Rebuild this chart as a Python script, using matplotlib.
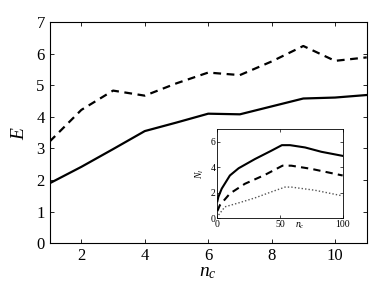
import matplotlib
matplotlib.use("Agg")
import matplotlib.pyplot as plt

plt.rcParams["font.family"] = ["Liberation Serif", "DejaVu Serif"]
plt.rcParams["mathtext.fontset"] = "custom"
plt.rcParams["mathtext.it"] = "Liberation Serif:italic"
plt.rcParams["mathtext.rm"] = "Liberation Serif"

# main panel: E vs n_c
nc = [1, 2, 3, 4, 5, 6, 7, 8, 9, 10, 11]
e_solid = [1.9, 2.42, 2.98, 3.55, 3.82, 4.1, 4.08, 4.33, 4.58, 4.61, 4.69]
e_dashed = [3.22, 4.22, 4.83, 4.67, 5.06, 5.4, 5.32, 5.75, 6.24, 5.77, 5.88]

# inset: N_l vs n_c
ins_solid_x = [0, 0.8, 3.5, 10, 17, 30, 43, 51.5, 58, 70, 83, 100]
ins_solid_y = [1.34, 1.68, 2.33, 3.36, 3.93, 4.65, 5.3, 5.74, 5.74, 5.56, 5.22, 4.9]
ins_dash_x = [0, 2, 10, 22, 38, 52, 59, 75, 100]
ins_dash_y = [0.57, 1.03, 1.94, 2.71, 3.41, 4.13, 4.13, 3.88, 3.36]
ins_dot_x = [1, 6, 17, 30, 43, 54, 59, 78, 100]
ins_dot_y = [0.26, 0.9, 1.21, 1.6, 2.07, 2.45, 2.45, 2.2, 1.76]

fig = plt.figure(figsize=(3.82, 2.85), dpi=100)
ax = fig.add_axes([0.130, 0.146, 0.830, 0.777])
ax.plot(nc, e_solid, color="black", lw=1.6)
ax.plot(nc, e_dashed, color="black", lw=1.6, ls=(0, (3.5, 2.5)))
ax.set_xlim(1, 11)
ax.set_ylim(0, 7)
ax.set_xticks([2, 4, 6, 8, 10])
ax.set_yticks(range(8))
ax.tick_params(direction="in", top=True, right=True, labelsize=12, length=3, width=0.6)
ax.set_xlabel(r"$n_c$", fontsize=14, labelpad=0)
ax.set_ylabel(r"$E$", fontsize=14, labelpad=6)
for s in ax.spines.values():
    s.set_linewidth(0.8)

ins = fig.add_axes([0.569, 0.234, 0.328, 0.313])
ins.plot(ins_solid_x, ins_solid_y, color="black", lw=1.5)
ins.plot(ins_dash_x, ins_dash_y, color="black", lw=1.5, ls=(0, (3.5, 2.5)))
ins.plot(ins_dot_x, ins_dot_y, color="#555555", lw=1.0, ls=(0, (1, 1.5)))
ins.set_xlim(0, 100)
ins.set_ylim(0, 7)
ins.set_xticks([0, 50, 100])
ins.set_yticks([0, 2, 4, 6])
ins.tick_params(direction="in", top=True, right=True, labelsize=7, length=2, width=0.5, pad=1.5)
ins.set_xlabel(r"$n_c$", fontsize=7)
ins.xaxis.set_label_coords(0.66, -0.03)
ins.set_ylabel(r"$N_l$", fontsize=7, labelpad=3)
for s in ins.spines.values():
    s.set_linewidth(0.6)

fig.savefig("out.png", dpi=100)
